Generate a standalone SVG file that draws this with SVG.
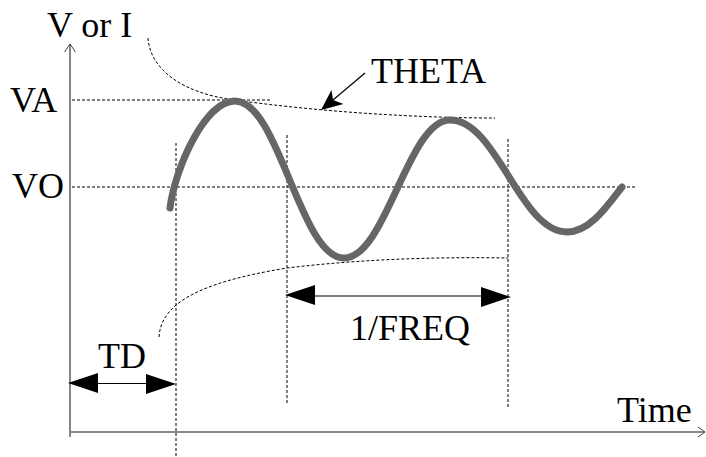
<svg xmlns="http://www.w3.org/2000/svg" width="706" height="457" viewBox="0 0 706 457">
<style>
text{font-family:"Liberation Serif","Times New Roman",serif;font-size:36px;fill:#000}
.dash{fill:none;stroke:#000;stroke-width:1;stroke-dasharray:3,2}
.wave{fill:none;stroke:#666;stroke-width:7;stroke-linecap:round;stroke-linejoin:round}
.dim{fill:none;stroke:#000;stroke-width:1.2}
.head{fill:#000;stroke:none}
</style>
<rect width="706" height="457" fill="#fff"/>
<g id="axes">
<line x1="70" y1="44" x2="70" y2="437" stroke="#444" stroke-width="1.3"/>
<polyline points="64.5,52 70,44 75.5,52" fill="none" stroke="#444" stroke-width="1"/>
<line x1="69" y1="432" x2="705" y2="432" stroke="#888" stroke-width="2"/>
<polyline points="698,427 705,432 698,437" fill="none" stroke="#444" stroke-width="1"/>
</g>
<g id="guides">
<line class="dash" x1="72" y1="100" x2="270" y2="100"/>
<line class="dash" x1="72" y1="187" x2="635" y2="187"/>
<line class="dash" x1="176" y1="143" x2="176" y2="457"/>
<line class="dash" x1="287" y1="135" x2="287" y2="403"/>
<line class="dash" x1="508" y1="139" x2="508" y2="407"/>
<path class="dash" d="M148,38 C150,68 180,93 235,100 C320,112 420,118 495,118"/>
<path class="dash" d="M159,337 C161,305 195,283 287,268 C370,258 450,257 508,258"/>
</g>
<g id="wave">
<path class="wave" d="M170,208 C175,168 205,101 235,101 C279,101 300,258 344,258 C386,258 408,120 450,120 C497,120 520,232 567,232 C590,232 608,205 622,187"/>
</g>
<g id="connectors">
<g id="td-arrow">
<line class="dim" x1="95" y1="383.5" x2="150" y2="383.5"/>
<polygon class="head" points="68,383 98,373 98,393"/>
<polygon class="head" points="176,384 146,374 146,394"/>
</g>
<g id="freq-arrow">
<line class="dim" x1="310" y1="296" x2="486" y2="296"/>
<polygon class="head" points="285,295 315,285 315,305"/>
<polygon class="head" points="511,297 481,287 481,307"/>
</g>
<g id="theta-arrow">
<line class="dim" x1="365" y1="73" x2="333" y2="100"/>
<polygon class="head" points="321,110 331.5,90 333,100 343.5,104"/>
</g>
</g>
<g id="labels">
<text x="47" y="37">V or I</text>
<text x="10" y="112">VA</text>
<text x="12" y="198">VO</text>
<text x="371" y="83">THETA</text>
<text x="98" y="368">TD</text>
<text x="350" y="340">1/FREQ</text>
<text x="617" y="422">Time</text>
</g>
</svg>
